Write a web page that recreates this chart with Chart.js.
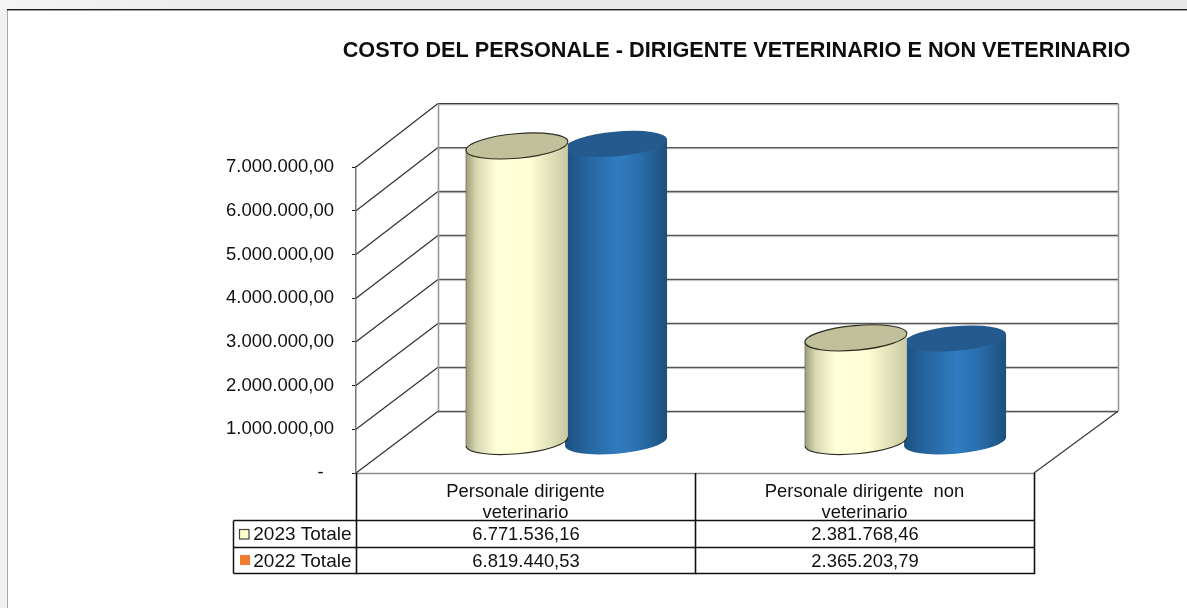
<!DOCTYPE html>
<html><head><meta charset="utf-8">
<style>html,body{margin:0;padding:0;background:#fff;overflow:hidden}#w{position:absolute;left:0;top:0;width:1187px;height:608px}</style>
<script src="https://cdn.jsdelivr.net/npm/chart.js@4"></script>
</head><body><div id="w"><canvas id="c" width="1187" height="608"></canvas></div>
<script>
const chartTitle = 'COSTO DEL PERSONALE - DIRIGENTE VETERINARIO E NON VETERINARIO';
const categories = [['Personale dirigente','veterinario'],['Personale dirigente  non','veterinario']];
const seriesNames = ['2023 Totale','2022 Totale'];
const values2023 = [6771536.16, 2381768.46];
const values2022 = [6819440.53, 2365203.79];

const FONT = '"Liberation Sans", Arial, sans-serif';
const DX = 82, DY_BOTTOM = -61.7, DY_TOP = -63.4, RIGHT_EXTRA = 2, MID_DY = -31;
const YELLOW = '#ffffd9', BLUE = '#2e78bc';
const LOOK = {
  [YELLOW]: {stops:[[0,'#9c9c78'],[0.10,'#d6d6b0'],[0.30,'#ffffd9'],[0.62,'#ffffd6'],[1,'#c8c8a2']], cap:'#c0c09b', line:'#2c2c20'},
  [BLUE]:   {stops:[[0,'#1c5080'],[0.22,'#26659f'],[0.52,'#307cc0'],[0.72,'#2a6fae'],[1,'#1d4f7c']], cap:'#245a8d', line:null}
};
const fmt = v => {
  const [i,d] = v.toFixed(2).split('.');
  return i.replace(/\B(?=(\d{3})+$)/g,'.') + ',' + d;
};

// Bars are drawn by the library's own bar elements, shaped as cylinders
Chart.BarElement.prototype.draw = function(ctx){
  const look = LOOK[this.options.backgroundColor] || LOOK[YELLOW];
  const cx = this.x + DX/2, top = this.y + MID_DY, bot = this.base + MID_DY;
  const a = this.width/2 + 1.6, b = 12.3, rot = -5*Math.PI/180;
  const ex = a*Math.cos(rot), ey = a*Math.sin(rot);
  const g = ctx.createLinearGradient(cx-a,0,cx+a,0);
  look.stops.forEach(s=>g.addColorStop(s[0],s[1]));
  ctx.save();
  ctx.beginPath();
  ctx.moveTo(cx-ex, top-ey);
  ctx.lineTo(cx-ex, bot-ey);
  ctx.ellipse(cx,bot,a,b,rot,Math.PI,0,true);
  ctx.lineTo(cx+ex, top+ey);
  ctx.closePath();
  ctx.fillStyle = g; ctx.fill();
  if(look.line){
    ctx.strokeStyle = look.line; ctx.lineWidth = 1.1;
    ctx.beginPath(); ctx.ellipse(cx,bot,a,b,rot,Math.PI,0,true); ctx.stroke();
    ctx.strokeStyle = 'rgba(90,90,70,.55)'; ctx.lineWidth = 1;
    ctx.beginPath(); ctx.moveTo(cx-ex,top-ey); ctx.lineTo(cx-ex,bot-ey); ctx.stroke();
  }
  ctx.beginPath(); ctx.ellipse(cx,top,a,b,rot,0,Math.PI*2);
  ctx.fillStyle = look.cap; ctx.fill();
  if(look.line){ ctx.strokeStyle = look.line; ctx.lineWidth = 1.1; ctx.stroke(); }
  ctx.restore();
};

const line = (ctx,x1,y1,x2,y2,c,w)=>{ctx.strokeStyle=c;ctx.lineWidth=w||1;ctx.beginPath();ctx.moveTo(x1,y1);ctx.lineTo(x2,y2);ctx.stroke();};

const box3d = {
  id:'box3d',
  afterLayout(chart){
    const t = chart.titleBlock;
    t.left = 342; t.right = 1131;
  },
  beforeDraw(chart){
    const c = chart.ctx; c.save();
    const g = c.createLinearGradient(0,0,1187,0);
    g.addColorStop(0,'#f5f5f5'); g.addColorStop(.25,'#e8e8e8'); g.addColorStop(1,'#e8e8e8');
    c.fillStyle = g; c.fillRect(0,0,1187,9);
    c.fillStyle = '#f1f1f1'; c.fillRect(0,9,7,599);
    c.fillStyle = '#a8a8a8'; c.fillRect(7,10,1,598);
    c.fillStyle = '#1a1a1a'; c.fillRect(7,9,1180,1.4);
    c.restore();
  },
  beforeDatasetsDraw(chart){
    const c = chart.ctx, y = chart.scales.y, A = chart.chartArea;
    const L = A.left, R = A.right, BL = L+DX, BR = R+DX+RIGHT_EXTRA;
    const backY = v => y.getPixelForValue(v) + DY_BOTTOM + (DY_TOP-DY_BOTTOM)*v/y.max;
    c.save();
    y.ticks.forEach(t=>{
      const p = y.getPixelForValue(t.value);
      const by = backY(t.value);
      line(c,BL,by+1.2,BR,by+1.2,'#bcbcbc',1);
      line(c,BL,by,BR,by,t.value===y.max?'#3a3a3a':'#555',1.3);
      line(c,L,p,BL,by,'#333',1.25);
    });
    const b = A.bottom, topB = backY(y.max), botB = backY(0);
    line(c,BL+.5,topB,BL+.5,botB,'#9a9a9a',1.6);
    line(c,BR+.5,topB,BR+.5,botB,'#9a9a9a',1.6);
    line(c,R,b,BR,botB,'#3a3a3a',1.25);
    line(c,L,b+.5,R,b+.5,'#8a8a8a',1.6);
    c.restore();
  },
  afterDraw(chart){
    const c = chart.ctx, A = chart.chartArea, x = chart.scales.x;
    const T0 = 233.5, rows = [520.5,547.5,573.5], TOP = Math.round(A.bottom);
    const mid = (x.getPixelForValue(0)+x.getPixelForValue(1))/2;
    c.save();
    rows.forEach(r=>line(c,T0,r,A.right,r,'#111',1.5));
    [A.left,mid,A.right].forEach(v=>{const p=Math.round(v)+.5;line(c,p,TOP,p,rows[2]+.7,'#111',1.6);});
    line(c,T0,rows[0],T0,rows[2],'#111',1.5);
    c.fillStyle='#111'; c.textBaseline='middle';
    const centers = [534.5,561.5];
    [values2023,values2022].forEach((vals,i)=>{
      c.textAlign='right'; c.fillStyle='#111';
      c.font = '19px '+FONT;
      c.fillText(seriesNames[i],351.5,centers[i]);
      c.textAlign='center';
      c.font = '18.4px '+FONT;
      vals.forEach((v,j)=>c.fillText(fmt(v),x.getPixelForValue(j)+.5,centers[i]));
    });
    c.fillStyle='#ffffcc'; c.strokeStyle='#444'; c.lineWidth=1.2;
    c.fillRect(239.5,529.5,9.5,9.5); c.strokeRect(239.5,529.5,9.5,9.5);
    c.fillStyle='#ed7d31'; c.fillRect(240,555,10,10);
    c.restore();
  }
};

new Chart(document.getElementById('c'),{
  type:'bar',
  data:{labels:categories,datasets:[
    {label:seriesNames[0],data:values2023,backgroundColor:YELLOW,clip:false},
    {label:seriesNames[1],data:values2022,backgroundColor:BLUE,clip:false}
  ]},
  plugins:[box3d],
  options:{
    responsive:false,animation:false,devicePixelRatio:1,
    layout:{padding:{left:0,right:153,top:0,bottom:0}},
    categoryPercentage:.585,barPercentage:1,
    plugins:{
      legend:{display:false},tooltip:{enabled:false},
      title:{display:true,text:chartTitle,align:'center',color:'#0d0d0d',
        font:{family:FONT,size:21.7,weight:'bold',lineHeight:1},
        padding:{top:40,bottom:105.3}}
    },
    scales:{
      x:{
        afterFit:s=>{s.height=135;},
        grid:{display:false},border:{display:false},
        ticks:{autoSkip:false,maxRotation:0,minRotation:0,color:'#111',padding:0,
          font:{family:FONT,size:18.4,lineHeight:1.14}}
      },
      y:{
        min:0,max:7000000,
        afterFit:s=>{s.width=356;},
        grid:{drawOnChartArea:false,drawTicks:true,tickLength:4,color:'#222'},
        border:{color:'#777',width:1.5},
        ticks:{stepSize:1000000,padding:18,color:'#111',
          font:{family:FONT,size:18.5},
          callback:v=>v===0?'-  ':fmt(v)}
      }
    }
  }
});
</script></body></html>
